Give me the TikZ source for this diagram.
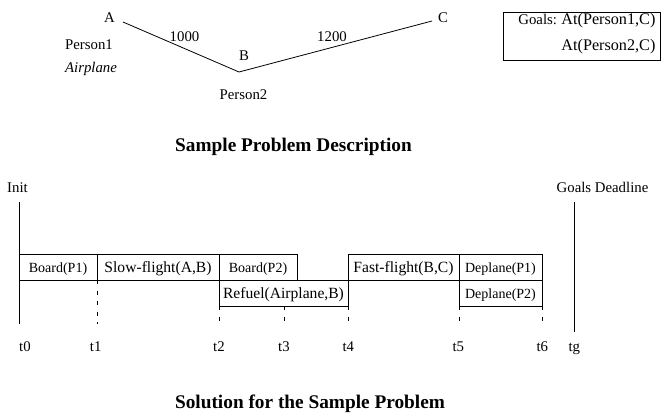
\documentclass[tikz,border=0pt]{standalone}
\usepackage{fontspec}
\setmainfont{Liberation Serif}
\usetikzlibrary{positioning}
\tikzset{lbl/.style={inner sep=0pt, anchor=base, font=\fontsize{14.8}{17}\selectfont}}
\tikzset{act/.style={draw, rectangle, inner sep=0pt, outer sep=0pt, anchor=north west,
    minimum height=26pt, text height=12pt, text depth=1pt, font=\fontsize{15.6}{18}\selectfont}}
\tikzset{smallact/.style={act, font=\fontsize{14}{17}\selectfont}}
\tikzset{tick/.style={dash pattern=on 4pt off 6.5pt}}
\tikzset{caption/.style={lbl, font=\fontsize{19.3}{23}\selectfont\bfseries}}

\begin{document}
\begin{tikzpicture}[x=1pt,y=-1pt,line width=0.8pt]
    \useasboundingbox (0,0) rectangle (661,416);

    \coordinate (PA) at (123, 22);
    \coordinate (PB) at (239, 72);
    \coordinate (PC) at (432, 21);

    \coordinate (I0) at (19, 202);
    \coordinate (G0) at (574, 202);

    \coordinate (T0) at (19, 324);
    \coordinate (T1) at (97, 324);
    \coordinate (T2) at (219, 320.5);
    \coordinate (T3) at (284, 320.5);
    \coordinate (T4) at (348, 320.5);
    \coordinate (T5) at (459, 320.5);
    \coordinate (T6) at (542, 320.5);
    \coordinate (TG) at (574, 332);

    \draw (PA) -- (PB) -- (PC);

    \node[draw, inner sep=0pt, anchor=north west, minimum width=157pt, minimum height=48pt] (goalbox) at (503, 12) {};

    % activities
    \node[smallact, minimum width=78pt] (board1) at (19, 254) {Board(P1)};
    \node[act, minimum width=122pt] (slow) at (board1.north east) {Slow-flight(A,B)};
    \node[smallact, minimum width=78pt] (board2) at (slow.north east) {Board(P2)};
    \node[act, minimum width=129pt] (refuel) at (slow.south east) {Refuel(Airplane,B)};
    \node[act, minimum width=111pt] (fast) at (board2.north -| refuel.east) {Fast-flight(B,C)};
    \node[smallact, minimum width=83pt] (deplane1) at (fast.north east) {Deplane(P1)};
    \node[smallact, minimum width=83pt] (deplane2) at (deplane1.south west) {Deplane(P2)};

    \draw (I0) -- (T0);
    \draw (G0) -- (TG);

    \draw[tick] (slow.south west) -- (T1);
    \draw[tick] (refuel.south west) -- (T2);
    \draw[tick] (refuel.south -| T3) -- (T3);
    \draw[tick] (refuel.south east) -- (T4);
    \draw[tick] (deplane2.south west) -- (T5);
    \draw[tick] (deplane2.south east) -- (T6);

%labels
    \node[lbl] (cityA) at (109.5, 22) {A};
    \node[lbl] (cityB) at (244, 60) {B};
    \node[lbl] (cityC) at (443, 22) {C};
    \node[lbl] (dist1) at (184.5, 41) {1000};
    \node[lbl] (dist2) at (332, 41) {1200};
    \node[lbl] (pers1) at (89, 49) {Person1};
    \node[lbl] (plane) at (91, 72) {\itshape Airplane};
    \node[lbl] (pers2) at (243.5, 99.5) {Person2};

    \node[lbl, anchor=base west] (goals) at (518, 24.5) {Goals:};
    \node[lbl, anchor=base west, font=\fontsize{16.2}{19}\selectfont] (goal1) at (561, 24.5) {At(Person1,C)};
    \node[lbl, anchor=base west, font=\fontsize{16.2}{19}\selectfont] (goal2) at (561, 50) {At(Person2,C)};

    \node[caption] (desc) at (293.5, 151) {Sample Problem Description};

    \node[lbl] (init) at (17.5, 192) {Init};
    \node[lbl] (deadline) at (602.5, 192) {Goals Deadline};

    \node[lbl] (lt0) at (25, 351) {t0};
    \node[lbl] (lt1) at (95.7, 351) {t1};
    \node[lbl] (lt2) at (219, 351) {t2};
    \node[lbl] (lt3) at (284, 351) {t3};
    \node[lbl] (lt4) at (348.3, 351) {t4};
    \node[lbl] (lt5) at (458.3, 351) {t5};
    \node[lbl] (lt6) at (542.3, 351) {t6};
    \node[lbl] (ltg) at (574.3, 351) {tg};

    \node[caption] (sol) at (310, 408) {Solution for the Sample Problem};
\end{tikzpicture}
\end{document}
